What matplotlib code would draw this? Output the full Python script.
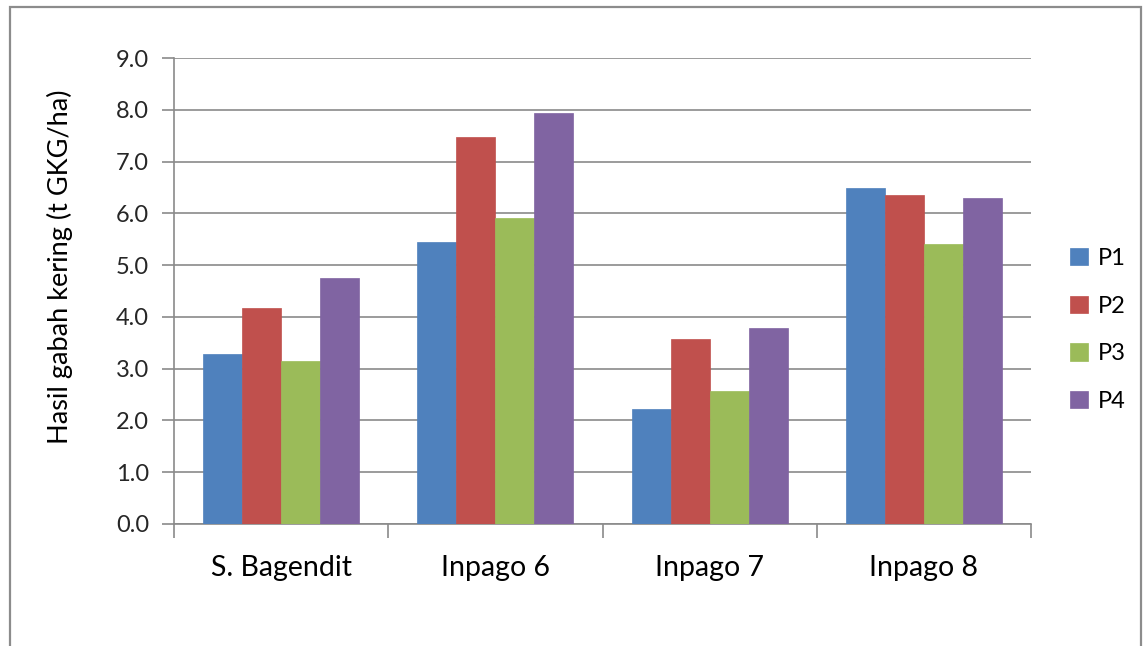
import matplotlib
matplotlib.use("Agg")
import matplotlib.pyplot as plt
from matplotlib.patches import Rectangle
import numpy as np

plt.rcParams['font.family'] = ['Lato', 'DejaVu Sans']

categories = ["S. Bagendit", "Inpago 6", "Inpago 7", "Inpago 8"]
series_names = ["P1", "P2", "P3", "P4"]
p1 = [3.28, 5.45, 2.23, 6.48]
p2 = [4.18, 7.47, 3.58, 6.36]
p3 = [3.15, 5.91, 2.56, 5.41]
p4 = [4.75, 7.93, 3.78, 6.30]
colors = ["#4F81BD", "#C0504D", "#9BBB59", "#8064A2"]
y_label = "Hasil gabah kering (t GKG/ha)"

W, H = 1147, 646
fig = plt.figure(figsize=(W / 100, H / 100), dpi=100)
fig.patch.set_facecolor("white")

# outer chart frame
fig.patches.append(Rectangle((10 / W, -0.05), (1141 - 10) / W, 1.05 - 7 / H,
                             transform=fig.transFigure, fill=False,
                             edgecolor="#8c8c8c", linewidth=1.6))

ax = fig.add_axes([174 / W, 1 - 524 / H, (1031 - 174) / W, (524 - 58) / H])

x = np.arange(len(categories))
bw = 1 / 5.5
for i, (vals, name, c) in enumerate(zip([p1, p2, p3, p4], series_names, colors)):
    ax.bar(x + (i - 1.5) * bw, vals, width=bw, color=c, label=name,
           edgecolor=c, linewidth=0.5, zorder=3)

ax.set_xlim(-0.5, len(categories) - 0.5)
ax.set_ylim(0, 9)
ax.set_yticks(np.arange(0, 9.01, 1.0))
ax.set_yticklabels([f"{v:.1f}" for v in np.arange(0, 9.01, 1.0)], fontsize=17, color="#262626")
ax.yaxis.grid(True, color="#8a8a8a", linewidth=1.2, zorder=0)
ax.set_axisbelow(True)

ax.set_xticks(x)
ax.set_xticklabels(categories, fontsize=20.5, color="#000000")
ax.tick_params(axis="x", which="major", length=0, pad=22)
ax.set_xticks(np.arange(-0.5, len(categories), 1.0), minor=True)
ax.tick_params(axis="x", which="minor", length=10, width=1.2, color="#8a8a8a")
ax.tick_params(axis="y", length=9, width=1.2, color="#8a8a8a", pad=9)

for s in ["top", "right"]:
    ax.spines[s].set_visible(False)
for s in ["left", "bottom"]:
    ax.spines[s].set_color("#8a8a8a")
    ax.spines[s].set_linewidth(1.2)

fig.text(60 / W, 1 - 267 / H, y_label, rotation=90, ha="center", va="center",
         fontsize=19.5, color="#000000")

leg = fig.legend(*ax.get_legend_handles_labels(), loc="center left",
                 bbox_to_anchor=(1058 / W, 1 - 330 / H), frameon=False,
                 fontsize=17, handlelength=0.75, handleheight=0.75,
                 handletextpad=0.45, labelspacing=1.13, borderpad=0)

fig.savefig("out.png", dpi=100)
